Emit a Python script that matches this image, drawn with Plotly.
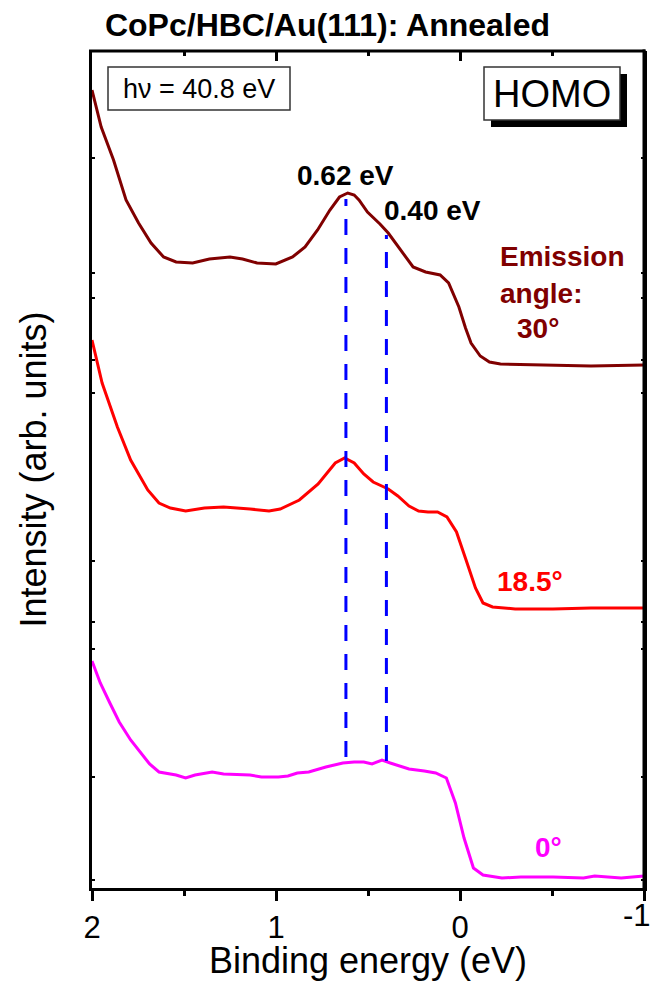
import plotly.graph_objects as go

# ---------------- data (binding energy in eV, intensity in arb. units) ----------------
energy_30 = [2.000, 1.950, 1.883, 1.815, 1.747, 1.679, 1.611, 1.543, 1.453, 1.362, 1.250, 1.182,
             1.103, 1.001, 0.910, 0.842, 0.774, 0.707, 0.655, 0.610, 0.575, 0.549, 0.503, 0.435,
             0.390, 0.323, 0.255, 0.187, 0.108, 0.062, 0.006, -0.030, -0.060, -0.110, -0.160,
             -0.220, -0.505, -0.712, -1.000]
intensity_30 = [798, 761, 728, 688, 665, 645, 631, 626, 625, 629, 631, 629,
                625, 624, 631, 641, 658, 678, 691, 695, 693, 688, 676, 664,
                655, 638, 621, 616, 613, 605, 581, 560, 545, 532, 526,
                524, 523, 522, 523]

energy_185 = [2.000, 1.945, 1.862, 1.790, 1.697, 1.636, 1.574, 1.491, 1.389, 1.285, 1.141, 1.038,
              0.977, 0.873, 0.771, 0.678, 0.627, 0.575, 0.523, 0.472, 0.390, 0.338, 0.277, 0.225,
              0.174, 0.122, 0.071, 0.019, -0.033, -0.084, -0.125, -0.177, -0.300, -0.505, -0.712,
              -1.000]
intensity_185 = [548, 505, 461, 428, 398, 385, 380, 377, 380, 381, 379, 377,
                 379, 388, 404, 425, 430, 425, 414, 406, 399, 392, 382, 377,
                 376, 376, 371, 356, 328, 300, 285, 281, 279, 279, 280,
                 280]

energy_0 = [2.000, 1.955, 1.903, 1.852, 1.790, 1.739, 1.687, 1.636, 1.584, 1.543, 1.491, 1.440,
            1.347, 1.285, 1.141, 1.079, 0.987, 0.935, 0.884, 0.822, 0.729, 0.637, 0.575, 0.523,
            0.478, 0.424, 0.379, 0.277, 0.194, 0.132, 0.074, 0.025, -0.022, -0.073, -0.125,
            -0.228, -0.331, -0.506, -0.671, -0.732, -0.876, -1.000]
intensity_0 = [227, 205, 185, 166, 148, 136, 124, 116, 114, 113, 110, 113,
               116, 114, 113, 111, 111, 112, 115, 116, 121, 125, 126, 126,
               124, 128, 125, 119, 117, 115, 110, 85, 50, 20, 13,
               10, 11, 11, 10, 12, 10, 12]

peak_energies = [0.62, 0.40]
peak_labels = ["0.62 eV", "0.40 eV"]
dash_top = [689, 653]
dash_bottom = [131, 127]

x_tickvals = [2, 1, 0, -1]
x_ticktext = ["2", "1", "0", ""]
last_tick_label = "-1"
x_minor_tickvals = [1.5, 0.5, -0.5]
y_tickvals = [730, 615, 590, 528, 495, 327, 266, 239, 111, 8]

# ---------------- layout helpers (pixel -> paper) ----------------
W, H = 655, 981
L, R, T, B = 92, 644, 51, 888


def xp(px):
    return (px - L) / (R - L)


def yp(py):
    return (B - py) / (B - T)


FONT = "Liberation Sans, Arial, sans-serif"
DARKRED = "#800000"
RED = "#ff0000"
MAGENTA = "#ff00ff"
BLUE = "#0000ff"

fig = go.Figure()

for e, y0, y1 in zip(peak_energies, dash_bottom, dash_top):
    fig.add_trace(go.Scatter(x=[e, e], y=[y0, y1], mode="lines", xaxis="x2",
                             line=dict(color=BLUE, width=3, dash="16px,13px"),
                             showlegend=False, hoverinfo="skip"))

for en, it, col, name in [(energy_30, intensity_30, DARKRED, "30°"),
                          (energy_185, intensity_185, RED, "18.5°"),
                          (energy_0, intensity_0, MAGENTA, "0°")]:
    fig.add_trace(go.Scatter(x=en, y=it, mode="lines", name=name,
                             line=dict(color=col, width=3), showlegend=False))

axis_common = dict(showgrid=False, zeroline=False, linewidth=3, linecolor="black",
                   automargin=False)

fig.update_layout(
    width=W, height=H,
    margin=dict(l=L, r=W - R, t=T, b=H - B, autoexpand=False),
    paper_bgcolor="white", plot_bgcolor="white",
    font=dict(family=FONT, color="black"),
    title=dict(text="<b>CoPc/HBC/Au(111): Annealed</b>", x=0.5, xref="container", xanchor="center",
               y=1 - 25 / H, yref="container", yanchor="middle",
               font=dict(size=32, family=FONT, color="black")),
    xaxis=dict(range=[2, -1], tickmode="array", tickvals=x_tickvals, ticktext=x_ticktext,
               ticks="outside", ticklen=10, tickwidth=3, tickcolor="black", showline=True,
               minor=dict(tickmode="array", tickvals=x_minor_tickvals, ticks="outside", ticklen=5,
                          tickwidth=3, tickcolor="black"),
               tickfont=dict(size=31, family=FONT, color="black"),
               title=dict(text="Binding energy (eV)", font=dict(size=36, family=FONT, color="black"),
                          standoff=10),
               **axis_common),
    xaxis2=dict(range=[2, -1], overlaying="x", side="top", anchor="y",
                tickmode="array", tickvals=x_tickvals, showticklabels=False, showline=False,
                ticks="inside", ticklen=10, tickwidth=3, tickcolor="black",
                minor=dict(tickmode="array", tickvals=x_minor_tickvals, ticks="inside", ticklen=5,
                           tickwidth=3, tickcolor="black"),
                **axis_common),
    yaxis=dict(range=[0, B - T], tickmode="array", tickvals=y_tickvals, showticklabels=False,
               ticks="inside", ticklen=3, tickwidth=2, tickcolor="black", mirror="ticks",
               showline=True,
               title=dict(text="Intensity (arb. units)", font=dict(size=36, family=FONT, color="black"),
                          standoff=32),
               **axis_common),
)

shapes = [
    # top and right frame lines (extended slightly to close the corners)
    dict(type="line", xref="paper", yref="paper", x0=xp(L - 3), x1=xp(R + 1.5), y0=1, y1=1,
         line=dict(color="black", width=3), layer="above"),
    dict(type="line", xref="paper", yref="paper", x0=1, x1=1, y0=yp(B + 3), y1=yp(T - 1.5),
         line=dict(color="black", width=3), layer="above"),
    # h-nu box
    dict(type="rect", xref="paper", yref="paper", x0=xp(108), x1=xp(290), y0=yp(110), y1=yp(67),
         line=dict(color="#333333", width=1.5), fillcolor="white"),
    # HOMO shadow
    dict(type="rect", xref="paper", yref="paper", x0=xp(491), x1=xp(627), y0=yp(127), y1=yp(74),
         line=dict(width=0), fillcolor="black"),
    # HOMO box
    dict(type="rect", xref="paper", yref="paper", x0=xp(484), x1=xp(620), y0=yp(120), y1=yp(67),
         line=dict(color="#333333", width=1.5), fillcolor="white"),
]
fig.update_layout(shapes=shapes)


def ann(text, px, py, size, color="black", bold=True, xanchor="center"):
    t = f"<b>{text}</b>" if bold else text
    return dict(text=t, x=xp(px), y=yp(py), xref="paper", yref="paper", showarrow=False,
                xanchor=xanchor, yanchor="middle",
                font=dict(size=size, family=FONT, color=color))


annotations = [
    ann("hν = 40.8 eV", 199, 89, 27, bold=False),
    ann("HOMO", 552, 94, 38, bold=False),
    ann(peak_labels[0], 345.5, 175, 28),
    ann(peak_labels[1], 382, 211, 28, xanchor="left"),
    ann("Emission", 498, 256, 28, DARKRED, xanchor="left"),
    ann("angle:", 498, 293, 28, DARKRED, xanchor="left"),
    ann("30°", 515, 328, 28, DARKRED, xanchor="left"),
    ann("18.5°", 495, 581, 28, RED, xanchor="left"),
    ann("0°", 548, 847, 28, MAGENTA),
    ann(last_tick_label, 653, 915, 31, bold=False, xanchor="right"),
]
fig.update_layout(annotations=annotations)

fig.write_html("out.html")
